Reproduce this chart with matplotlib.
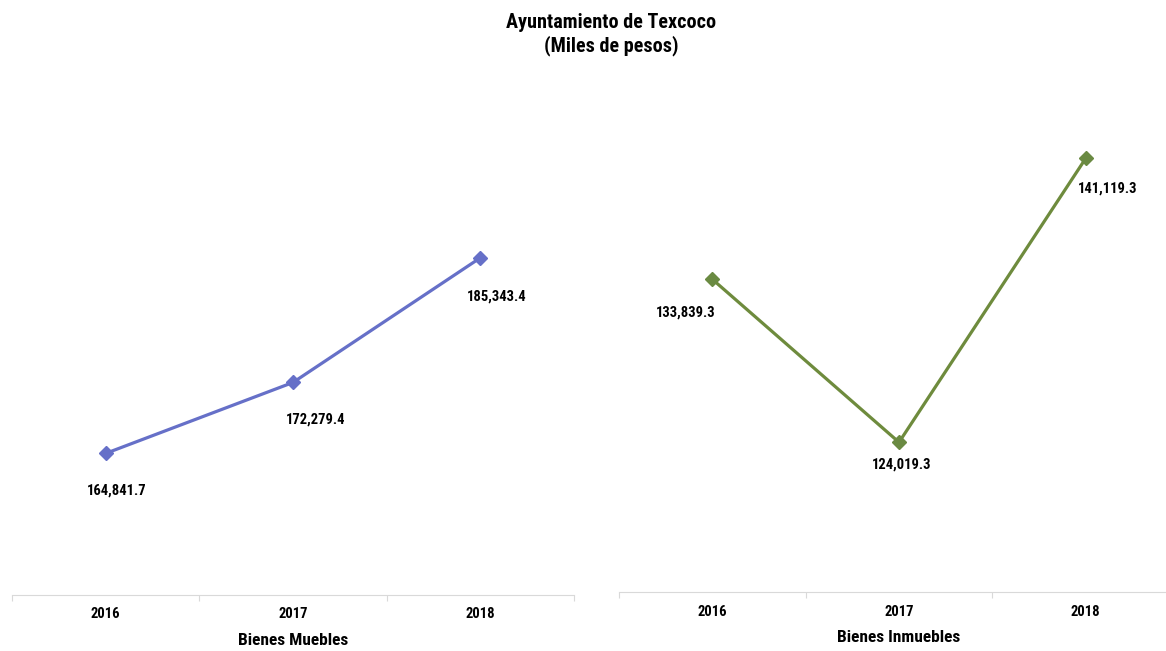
import matplotlib

matplotlib.use('Agg')
import matplotlib.pyplot as plt

plt.rcParams['font.family'] = ['Liberation Sans Narrow', 'Roboto Condensed', 'PT Sans Narrow',
                               'Asap Condensed', 'DejaVu Sans']
plt.rcParams['font.weight'] = 'bold'

years = ['2016', '2017', '2018']
muebles = [164841.7, 172279.4, 185343.4]
inmuebles = [133839.3, 124019.3, 141119.3]

fig = plt.figure(figsize=(11.66, 6.51), dpi=100)
W, H = 1166.0, 651.0


def panel(rect, vals, ylim, color, mcolor, xlabel, offs):
    ax = fig.add_axes(rect)
    x = list(range(len(vals)))
    ax.plot(x, vals, color=color, lw=2.3, marker='D', markersize=7,
            markerfacecolor=mcolor, markeredgecolor=mcolor, zorder=3)
    for xi, v, (dx, dy) in zip(x, vals, offs):
        ax.annotate(f'{v:,.1f}', (xi, v), xytext=(dx, dy), textcoords='offset points',
                    ha='center', va='center', fontsize=10.5, fontweight='bold')
    ax.set_xlim(-0.5, len(vals) - 0.5)
    ax.set_ylim(*ylim)
    for s in ['top', 'right', 'left']:
        ax.spines[s].set_visible(False)
    ax.spines['bottom'].set_color('#d9d9d9')
    ax.set_yticks([])
    ax.set_xticks([i - 0.5 for i in range(len(vals) + 1)])
    ax.set_xticklabels([])
    ax.tick_params(axis='x', which='major', length=4, color='#d9d9d9', direction='out')
    ax.set_xticks(x, minor=True)
    ax.set_xticklabels(years, minor=True, fontsize=10.5, fontweight='bold')
    ax.tick_params(axis='x', which='minor', length=0, pad=9)
    ax.set_xlabel(xlabel, fontsize=12.5, fontweight='bold', labelpad=8)
    return ax


panel([12 / W, 56 / H, 562 / W, 477 / H], muebles, (150000, 200000),
      '#6670C8', '#6670C8', 'Bienes Muebles',
      [(8, -27), (16.5, -27), (11.5, -28)])
panel([619 / W, 59 / H, 560 / W, 498 / H], inmuebles, (115000, 145000),
      '#6E8B3D', '#6A8A42', 'Bienes Inmuebles',
      [(-19, -24), (2, -16), (16, -22)])

fig.text(611 / W, 1 - 22 / H, 'Ayuntamiento de Texcoco', ha='center', va='center',
         fontsize=14.5, fontweight='bold')
fig.text(611 / W, 1 - 46 / H, '(Miles de pesos)', ha='center', va='center',
         fontsize=14.5, fontweight='bold')

fig.savefig('out.png', dpi=100, facecolor='white')
